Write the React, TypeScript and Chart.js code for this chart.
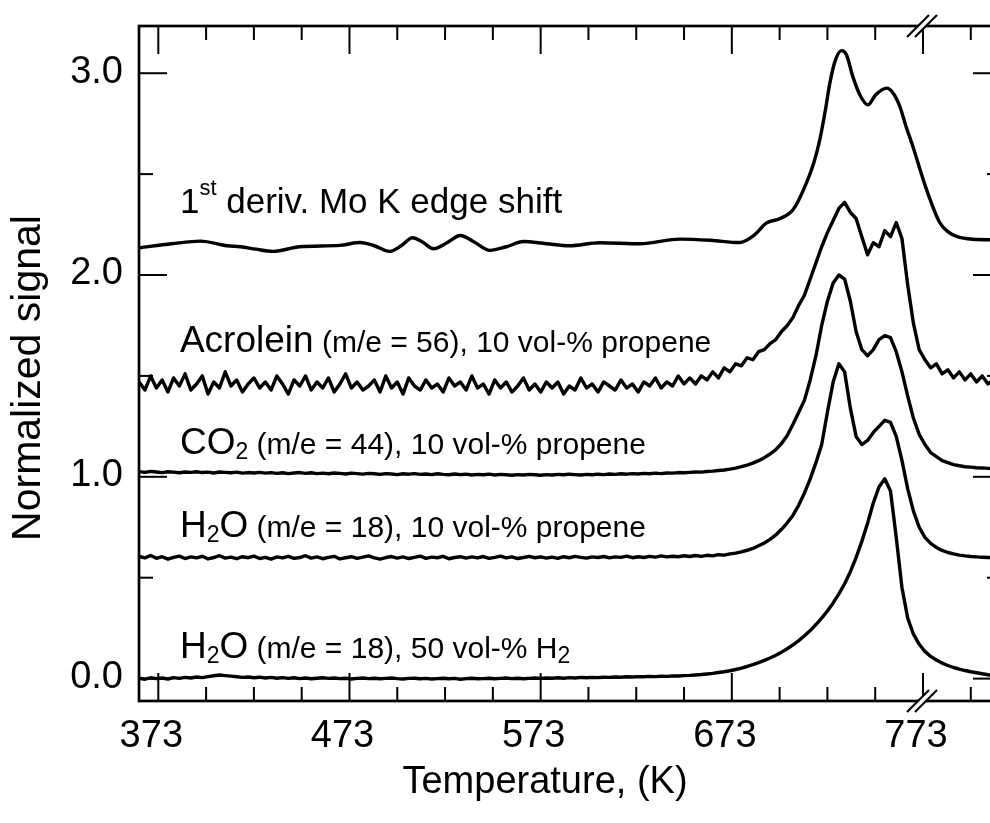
import React, { useEffect, useRef } from 'react';
import { Chart, registerables } from 'chart.js';

Chart.register(...registerables);

// ---- Data (Temperature grid: start + step) ----
const T_START = 363;
const T_STEP = 3;

const ACROLEIN = [
  1.47, 1.43, 1.50, 1.44, 1.48, 1.42, 1.49, 1.45, 1.51, 1.43,
  1.46, 1.50, 1.41, 1.47, 1.44, 1.52, 1.45, 1.48, 1.42, 1.46,
  1.49, 1.44, 1.47, 1.43, 1.50, 1.46, 1.41, 1.48, 1.45, 1.50,
  1.43, 1.47, 1.44, 1.49, 1.42, 1.46, 1.51, 1.44, 1.47, 1.43,
  1.45, 1.48, 1.42, 1.50, 1.44, 1.47, 1.41, 1.49, 1.45, 1.43,
  1.48, 1.44, 1.46, 1.42, 1.49, 1.45, 1.47, 1.43, 1.50, 1.44,
  1.46, 1.41, 1.48, 1.44, 1.47, 1.42, 1.45, 1.49, 1.43, 1.46,
  1.42, 1.47, 1.44, 1.47, 1.41, 1.45, 1.43, 1.49, 1.44, 1.46,
  1.42, 1.47, 1.45, 1.43, 1.48, 1.44, 1.46, 1.42, 1.47, 1.45,
  1.49, 1.44, 1.47, 1.45, 1.50, 1.46,
  1.49, 1.46, 1.50, 1.48, 1.52, 1.49, 1.54, 1.52, 1.56, 1.55,
  1.59, 1.58, 1.62, 1.63, 1.66, 1.68, 1.72, 1.75, 1.79, 1.85,
  1.90, 1.98, 2.06, 2.14, 2.21, 2.27, 2.33, 2.36, 2.31, 2.28,
  2.19, 2.10, 2.16, 2.14, 2.22, 2.19, 2.26, 2.18, 1.95, 1.76,
  1.63, 1.58, 1.54, 1.56, 1.51, 1.53, 1.49, 1.52, 1.48, 1.51,
  1.47, 1.50, 1.46, 1.48,
];

const CO2 = [
  1.026, 1.022, 1.027, 1.024, 1.021, 1.025, 1.023, 1.020, 1.024, 1.022,
  1.025, 1.021, 1.023, 1.019, 1.024, 1.022, 1.020, 1.023, 1.018, 1.021,
  1.019, 1.022, 1.018, 1.021, 1.017, 1.020, 1.016, 1.019, 1.021, 1.017,
  1.020, 1.016, 1.018, 1.015, 1.019, 1.017, 1.014, 1.018, 1.016, 1.013,
  1.017, 1.015, 1.012, 1.016, 1.014, 1.011, 1.015, 1.013, 1.016, 1.012,
  1.014, 1.011, 1.015, 1.012, 1.010, 1.014, 1.011, 1.013, 1.009, 1.012,
  1.010, 1.013, 1.009, 1.012, 1.010, 1.008, 1.011, 1.009, 1.012, 1.010,
  1.008, 1.011, 1.009, 1.012, 1.010, 1.013, 1.011, 1.009, 1.012, 1.010,
  1.013, 1.011, 1.014, 1.012, 1.015, 1.013, 1.016, 1.014, 1.017, 1.015,
  1.018, 1.016, 1.019, 1.018, 1.021, 1.020,
  1.022, 1.024, 1.023, 1.026, 1.028, 1.031, 1.034, 1.038, 1.043, 1.050,
  1.058, 1.068, 1.080, 1.095, 1.113, 1.135, 1.165, 1.205, 1.26, 1.32,
  1.38, 1.48, 1.60, 1.75, 1.87, 1.96, 2.00, 1.98, 1.87, 1.72,
  1.63, 1.60, 1.63, 1.68, 1.70, 1.69, 1.62, 1.52, 1.40, 1.29,
  1.21, 1.16, 1.12, 1.10, 1.08, 1.07, 1.06, 1.055, 1.05, 1.048,
  1.045, 1.044, 1.042, 1.041,
];

const H2O_PROPENE = [
  0.605, 0.598, 0.610, 0.596, 0.604, 0.592, 0.601, 0.607, 0.595, 0.603,
  0.598, 0.606, 0.593, 0.600, 0.609, 0.597, 0.602, 0.594, 0.604, 0.599,
  0.607, 0.595, 0.601, 0.592, 0.603, 0.598, 0.606, 0.596, 0.600, 0.609,
  0.597, 0.603, 0.594, 0.601, 0.606, 0.593, 0.599, 0.604, 0.596, 0.602,
  0.608, 0.598, 0.592, 0.600, 0.605, 0.597, 0.603, 0.595, 0.601, 0.607,
  0.596, 0.602, 0.599, 0.606, 0.594, 0.600, 0.604, 0.597, 0.603, 0.598,
  0.605, 0.596, 0.601, 0.607, 0.598, 0.603, 0.595, 0.600, 0.606, 0.599,
  0.603, 0.597, 0.602, 0.596, 0.604, 0.599, 0.606, 0.601, 0.597, 0.603,
  0.600, 0.605, 0.598, 0.603, 0.601, 0.607, 0.599, 0.604, 0.600, 0.606,
  0.602, 0.608, 0.603, 0.606, 0.604, 0.609,
  0.605, 0.610, 0.606, 0.611, 0.608, 0.614, 0.612, 0.618, 0.622, 0.628,
  0.636, 0.645, 0.658, 0.672, 0.690, 0.712, 0.740, 0.772, 0.81, 0.86,
  0.92, 0.99, 1.07, 1.16, 1.32, 1.47, 1.56, 1.52, 1.34, 1.20,
  1.16, 1.18, 1.22, 1.25, 1.28, 1.27, 1.20, 1.08, 0.94, 0.83,
  0.75, 0.70, 0.67, 0.65, 0.635, 0.625, 0.618, 0.612, 0.608, 0.605,
  0.603, 0.601, 0.600, 0.600,
];

const H2O_H2 = [
  0.002, -0.003, 0.004, 0.000, 0.003, -0.002, 0.005, 0.001, 0.006, 0.003,
  0.008, 0.005, 0.010, 0.014, 0.018, 0.015, 0.012, 0.009, 0.006, 0.008,
  0.004, 0.007, 0.003, 0.006, 0.002, 0.005, 0.001, 0.004, 0.000, 0.003,
  -0.001, 0.002, 0.004, 0.001, 0.003, 0.000, 0.002, -0.002, 0.001, 0.003,
  0.000, 0.002, -0.001, 0.001, 0.003, 0.000, -0.002, 0.001, 0.002, -0.001,
  0.001, -0.002, 0.000, 0.002, -0.001, 0.001, -0.003, 0.000, 0.002, -0.001,
  0.000, 0.002, -0.001, 0.001, 0.003, 0.000, 0.002, -0.001, 0.001, 0.003,
  0.001, 0.003, 0.002, 0.004, 0.002, 0.005, 0.003, 0.006, 0.004, 0.006,
  0.005, 0.007, 0.006, 0.008, 0.007, 0.009, 0.008, 0.010, 0.009, 0.011,
  0.010, 0.012, 0.011, 0.013, 0.013, 0.015,
  0.016, 0.018, 0.020, 0.023, 0.026, 0.030, 0.034, 0.039, 0.045, 0.052,
  0.060, 0.069, 0.079, 0.090, 0.102, 0.116, 0.131, 0.148, 0.167, 0.188,
  0.212, 0.238, 0.268, 0.300, 0.335, 0.375, 0.420, 0.470, 0.530, 0.600,
  0.680, 0.770, 0.870, 0.950, 0.990, 0.930, 0.700, 0.450, 0.300, 0.220,
  0.170, 0.135, 0.110, 0.092, 0.077, 0.065, 0.055, 0.047, 0.040, 0.034,
  0.029, 0.024, 0.019, 0.015,
];

// 1st derivative of Mo K edge shift (smooth curve)
const EDGE_T = [
  363, 380, 395, 409, 416, 424, 433, 447, 468, 478.5,
  486, 494, 500, 506, 511, 517, 524, 531, 538, 546.5,
  555, 564, 576, 588, 604, 625, 646, 662, 677, 685,
  691, 698, 705, 712, 716, 719, 722, 724.3, 727, 730.4,
  733, 736.3, 740, 744.2, 748.3, 754, 757.5, 760.9, 764, 767.7,
  774.9, 781.8, 786, 790.6, 799, 808, 814,
];
const EDGE_Y = [
  2.135, 2.155, 2.168, 2.145, 2.140, 2.128, 2.117, 2.140, 2.147, 2.161,
  2.145, 2.117, 2.145, 2.185, 2.165, 2.130, 2.160, 2.196, 2.165, 2.122,
  2.140, 2.166, 2.155, 2.145, 2.160, 2.155, 2.178, 2.172, 2.161, 2.200,
  2.257, 2.279, 2.323, 2.455, 2.560, 2.670, 2.820, 2.952, 3.060, 3.112,
  3.090, 2.983, 2.892, 2.843, 2.893, 2.926, 2.900, 2.835, 2.740, 2.637,
  2.422, 2.259, 2.215, 2.191, 2.177, 2.175, 2.175,
];

// Axis ticks
const X_TICKS = [373, 398, 423, 448, 473, 498, 523, 548, 573, 598, 623, 648, 673, 698, 723, 748, 773, 798];
const X_LABELED = [373, 473, 573, 673, 773];
const Y_TICKS = [0, 0.5, 1, 1.5, 2, 2.5, 3];
const Y_LABELED = [0, 1, 2, 3];
const X_MIN = 362.9;
const X_MAX = 813.8;
const Y_MIN = -0.111;
const Y_MAX = 3.234;
const BREAK_T = 773;

const X_TITLE = 'Temperature, (K)';
const Y_TITLE = 'Normalized signal';

// Curve annotations: anchored in data coordinates (K, signal)
const ANNOTATIONS: { t: number; v: number; runs: [string, 'main' | 'small' | 'sup' | 'sub'][] }[] = [
  { t: 384.3, v: 2.308, runs: [['1', 'main'], ['st', 'sup'], [' deriv. Mo K edge shift', 'main']] },
  { t: 384.3, v: 1.62, runs: [['Acrolein', 'main'], [' (m/e = 56), 10 vol-% propene', 'small']] },
  { t: 384.3, v: 1.115, runs: [['CO', 'main'], ['2', 'sub'], [' (m/e = 44), 10 vol-% propene', 'small']] },
  { t: 384.3, v: 0.70, runs: [['H', 'main'], ['2', 'sub'], ['O', 'main'], [' (m/e = 18), 10 vol-% propene', 'small']] },
  { t: 384.3, v: 0.10, runs: [['H', 'main'], ['2', 'sub'], ['O', 'main'], [' (m/e = 18), 50 vol-% H', 'small'], ['2', 'sub']] },
];

const FONT = "'Liberation Sans', Arial, Helvetica, sans-serif";

const toPoints = (arr: number[]) => arr.map((y, i) => ({ x: T_START + i * T_STEP, y }));

const framePlugin = {
  id: 'frame',
  afterDraw(chart: any) {
    const { ctx, chartArea: a, scales } = chart;
    const xs = scales.x;
    const ys = scales.y;
    ctx.save();
    ctx.strokeStyle = '#000';
    ctx.fillStyle = '#000';
    ctx.lineCap = 'butt';

    // frame
    ctx.lineWidth = 2.7;
    ctx.strokeRect(a.left, a.top, a.right - a.left, a.bottom - a.top);

    // ticks (inside)
    ctx.lineWidth = 2;
    const line = (x1: number, y1: number, x2: number, y2: number) => {
      ctx.beginPath();
      ctx.moveTo(x1, y1);
      ctx.lineTo(x2, y2);
      ctx.stroke();
    };
    for (const v of X_TICKS) {
      const px = xs.getPixelForValue(v);
      const len = X_LABELED.includes(v) ? 28 : 14;
      line(px, a.bottom, px, a.bottom - len);
      line(px, a.top, px, a.top + len);
    }
    for (const v of Y_TICKS) {
      const py = ys.getPixelForValue(v);
      const len = Y_LABELED.includes(v) ? 28 : 14;
      line(a.left, py, a.left + len, py);
      line(a.right, py, a.right - len, py);
    }

    // axis break marks
    const bx = xs.getPixelForValue(BREAK_T);
    for (const by of [a.top, a.bottom]) {
      const c1 = bx - 5;
      const c2 = bx + 3;
      const h = 11;
      ctx.fillStyle = '#fff';
      ctx.beginPath();
      ctx.moveTo(c1 - h, by + h);
      ctx.lineTo(c1 + h, by - h);
      ctx.lineTo(c2 + h, by - h);
      ctx.lineTo(c2 - h, by + h);
      ctx.closePath();
      ctx.fill();
      ctx.lineWidth = 2.2;
      line(c1 - h, by + h, c1 + h, by - h);
      line(c2 - h, by + h, c2 + h, by - h);
    }

    // annotations
    ctx.fillStyle = '#000';
    ctx.textBaseline = 'alphabetic';
    ctx.textAlign = 'left';
    const styles: Record<string, { size: number; dy: number }> = {
      main: { size: 37, dy: 0 },
      small: { size: 30, dy: 0 },
      sup: { size: 22, dy: -18 },
      sub: { size: 23, dy: 5 },
    };
    ANNOTATIONS.forEach((ann, idx) => {
      let x = xs.getPixelForValue(ann.t);
      const y = ys.getPixelForValue(ann.v);
      for (const [text, kind] of ann.runs) {
        const st = styles[kind];
        let size = st.size;
        if (idx === 0 && kind === 'main') size = 35;
        ctx.font = `${size}px ${FONT}`;
        ctx.fillText(text, x, y + st.dy);
        x += ctx.measureText(text).width;
      }
    });

    // axis titles
    ctx.font = `38px ${FONT}`;
    ctx.textAlign = 'center';
    ctx.fillText(X_TITLE, 545, 793);
    ctx.save();
    ctx.translate(40, 378);
    ctx.rotate(-Math.PI / 2);
    ctx.font = `41px ${FONT}`;
    ctx.fillText(Y_TITLE, 0, 0);
    ctx.restore();

    ctx.restore();
  },
};

export default function App() {
  const ref = useRef<HTMLCanvasElement | null>(null);

  useEffect(() => {
    if (!ref.current) return;
    const ds = (data: { x: number; y: number }[], smooth = false) => ({
      data,
      borderColor: '#000',
      borderWidth: 3.4,
      pointRadius: 0,
      fill: false,
      tension: 0,
      cubicInterpolationMode: smooth ? ('monotone' as const) : ('default' as const),
    });
    const zeroPad = (scale: any) => {
      scale.paddingTop = 0;
      scale.paddingBottom = 0;
      scale.paddingLeft = 0;
      scale.paddingRight = 0;
    };
    const chart = new Chart(ref.current, {
      type: 'line',
      data: {
        datasets: [
          ds(EDGE_T.map((t, i) => ({ x: t, y: EDGE_Y[i] })), true),
          ds(toPoints(ACROLEIN)),
          ds(toPoints(CO2)),
          ds(toPoints(H2O_PROPENE)),
          ds(toPoints(H2O_H2)),
        ],
      },
      options: {
        animation: false,
        responsive: false,
        devicePixelRatio: 1,
        layout: { padding: { top: 26, right: 9, bottom: 0, left: 0 } },
        plugins: { legend: { display: false }, tooltip: { enabled: false } },
        elements: { line: { borderJoinStyle: 'round', borderCapStyle: 'round' } },
        scales: {
          x: {
            type: 'linear',
            min: X_MIN,
            max: X_MAX,
            grid: { display: false, drawTicks: false },
            border: { display: false },
            afterBuildTicks: (scale: any) => {
              scale.ticks = X_TICKS.map((v) => ({ value: v }));
            },
            afterFit: (scale: any) => {
              scale.height = 122;
              zeroPad(scale);
            },
            ticks: {
              autoSkip: false,
              maxRotation: 0,
              padding: 13,
              labelOffset: -7,
              color: '#000',
              font: { family: FONT, size: 38 },
              callback: (v: any) => (X_LABELED.includes(Number(v)) ? String(v) : ''),
            },
          },
          y: {
            type: 'linear',
            min: Y_MIN,
            max: Y_MAX,
            grid: { display: false, drawTicks: false },
            border: { display: false },
            afterBuildTicks: (scale: any) => {
              scale.ticks = Y_TICKS.map((v) => ({ value: v }));
            },
            afterFit: (scale: any) => {
              scale.width = 139;
              zeroPad(scale);
            },
            ticks: {
              autoSkip: false,
              padding: 16,
              labelOffset: -1,
              color: '#000',
              font: { family: FONT, size: 38 },
              callback: (v: any) => (Y_LABELED.includes(Number(v)) ? Number(v).toFixed(1) : ''),
            },
          },
        },
      },
      plugins: [framePlugin],
    });
    return () => chart.destroy();
  }, []);

  return (
    <div
      style={{
        position: 'fixed',
        left: 0,
        top: 0,
        width: 990,
        height: 823,
        overflow: 'hidden',
        background: '#fff',
      }}
    >
      <canvas ref={ref} width={1010} height={823} style={{ display: 'block' }} />
    </div>
  );
}
